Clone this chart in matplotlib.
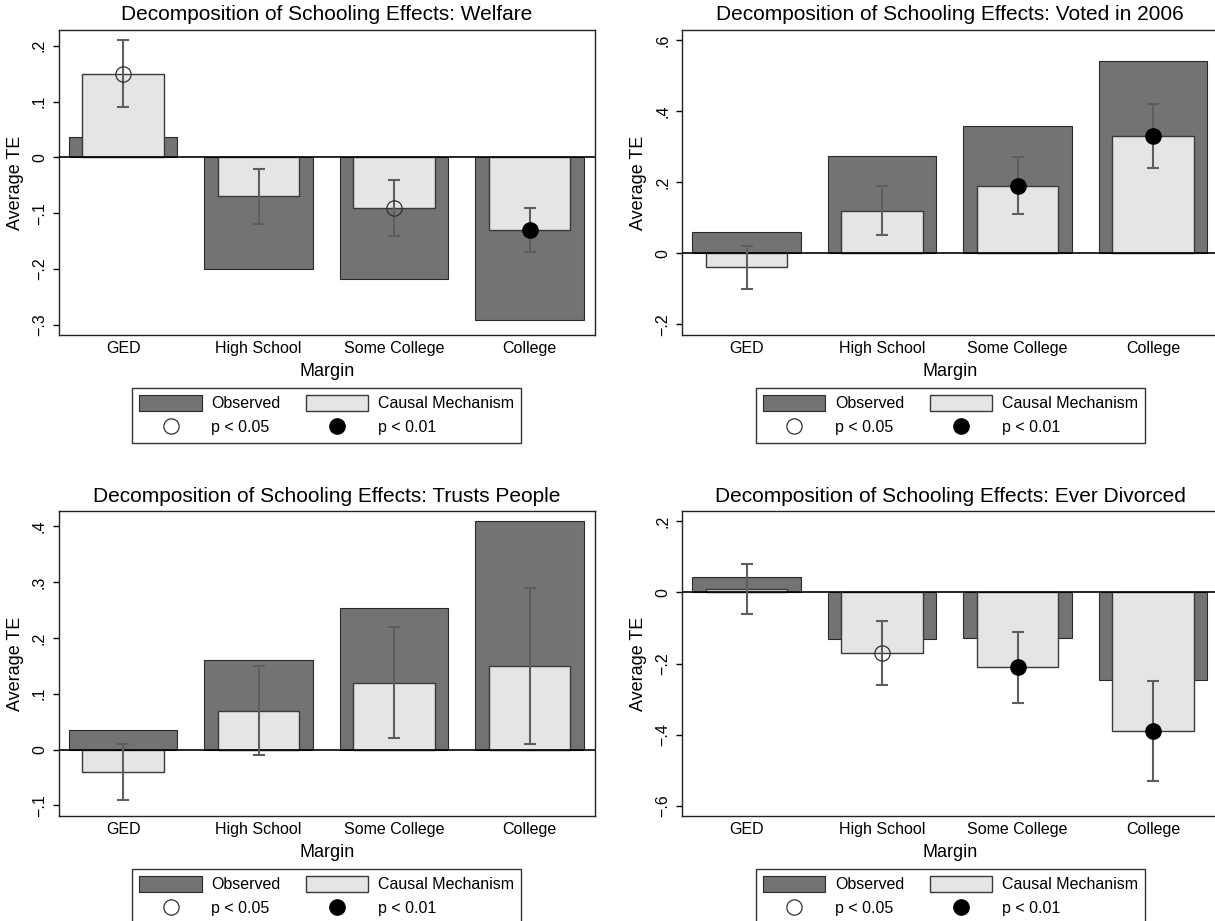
import numpy as np
import matplotlib.pyplot as plt
from matplotlib.lines import Line2D
from matplotlib.patches import Patch

plt.rcParams['font.family'] = ['Liberation Sans', 'DejaVu Sans']

margins = ['GED', 'High School', 'Some College', 'College']

# Welfare
welfare_obs = [0.037, -0.200, -0.218, -0.292]
welfare_causal = [0.15, -0.07, -0.09, -0.13]
welfare_lo = [0.09, -0.12, -0.14, -0.17]
welfare_hi = [0.21, -0.02, -0.04, -0.09]
welfare_sig = ['p05', '', 'p05', 'p01']

# Voted in 2006
voted_obs = [0.061, 0.273, 0.357, 0.540]
voted_causal = [-0.04, 0.12, 0.19, 0.33]
voted_lo = [-0.10, 0.05, 0.11, 0.24]
voted_hi = [0.02, 0.19, 0.27, 0.42]
voted_sig = ['', '', 'p01', 'p01']

# Trusts People
trust_obs = [0.035, 0.160, 0.254, 0.409]
trust_causal = [-0.04, 0.07, 0.12, 0.15]
trust_lo = [-0.09, -0.01, 0.02, 0.01]
trust_hi = [0.01, 0.15, 0.22, 0.29]
trust_sig = ['', '', '', '']

# Ever Divorced
divorce_obs = [0.042, -0.131, -0.129, -0.246]
divorce_causal = [0.01, -0.17, -0.21, -0.39]
divorce_lo = [-0.06, -0.26, -0.31, -0.53]
divorce_hi = [0.08, -0.08, -0.11, -0.25]
divorce_sig = ['', 'p05', 'p01', 'p01']

dark = '#737373'
light = '#e5e5e5'


def fmt_tick(v):
    if abs(v) < 1e-9:
        return '0'
    s = ('%g' % abs(v)).lstrip('0')
    return ('\u2212' if v < 0 else '') + s


def draw_panel(ax, title, obs, causal, lo, hi, sig, ylim, yticks):
    x = np.arange(len(margins))
    causal = np.array(causal)
    lo = np.array(lo)
    hi = np.array(hi)
    ax.bar(x, obs, width=0.8, color=dark, edgecolor='#2a2a2a', linewidth=0.8, zorder=2)
    ax.bar(x, causal, width=0.6, color=light, edgecolor='#3a3a3a', linewidth=1.0, zorder=3)
    ax.axhline(0, color='black', lw=1.2, zorder=4)
    ax.errorbar(x, causal, yerr=[causal - lo, hi - causal], fmt='none', ecolor='#5e5e5e',
                elinewidth=1.5, capsize=4.5, capthick=1.5, zorder=5)
    for xi, yi, s in zip(x, causal, sig):
        if s == 'p05':
            ax.plot(xi, yi, 'o', ms=11, mfc='none', mec='#303030', mew=0.9, zorder=6)
        elif s == 'p01':
            ax.plot(xi, yi, 'o', ms=11, mfc='black', mec='black', zorder=6)

    ax.set_xlim(-0.477, 3.483)
    ax.set_ylim(*ylim)
    ax.set_yticks(yticks)
    ax.set_yticklabels([fmt_tick(v) for v in yticks])
    ax.tick_params(axis='y', direction='out', length=4.3, width=1, labelsize=11.5,
                   labelrotation=90, pad=4)
    for lbl in ax.get_yticklabels():
        lbl.set_va('center')
    ax.set_xticks(x)
    ax.set_xticklabels(margins)
    ax.tick_params(axis='x', length=0, labelsize=11.5, pad=4)
    ax.set_xlabel('Margin', fontsize=13, labelpad=5)
    ax.set_ylabel('Average TE', fontsize=13, va='center')
    ax.yaxis.set_label_coords(-0.081, 0.5)
    for sp in ax.spines.values():
        sp.set_linewidth(1.0)
        sp.set_color('#222222')
    ax.text(0.5, 1 + 15 / 305, title, transform=ax.transAxes, ha='center', va='center',
            fontsize=15)

    handles = [
        Patch(facecolor=dark, edgecolor='#2a2a2a', linewidth=0.8),
        Line2D([], [], linestyle='none', marker='o', ms=11, mfc='none', mec='#303030', mew=0.9),
        Patch(facecolor=light, edgecolor='#3a3a3a', linewidth=1.0),
        Line2D([], [], linestyle='none', marker='o', ms=11, mfc='black', mec='black'),
    ]
    labels = ['Observed', 'p < 0.05', 'Causal Mechanism', 'p < 0.01']
    leg = ax.legend(handles, labels, ncol=2, loc='upper center',
                    bbox_to_anchor=(0.5, -53 / 305), fontsize=11.5, frameon=True,
                    fancybox=False, edgecolor='#333333', framealpha=1,
                    handlelength=3.9, handleheight=1.1, handletextpad=0.6,
                    columnspacing=1.6, borderpad=0.45, labelspacing=0.5,
                    borderaxespad=0)
    leg.get_frame().set_linewidth(1.0)


fig = plt.figure(figsize=(12.15, 9.21), dpi=100)
W, H = 1215.0, 921.0
aw, ah = 536.5, 305.0
ax1 = fig.add_axes([58.5 / W, (H - 335) / H, aw / W, ah / H])
ax2 = fig.add_axes([682 / W, (H - 335) / H, aw / W, ah / H])
ax3 = fig.add_axes([58.5 / W, (H - 816) / H, aw / W, ah / H])
ax4 = fig.add_axes([682 / W, (H - 816) / H, aw / W, ah / H])

draw_panel(ax1, 'Decomposition of Schooling Effects: Welfare',
           welfare_obs, welfare_causal, welfare_lo, welfare_hi, welfare_sig,
           (-0.318, 0.228), [-0.3, -0.2, -0.1, 0, 0.1, 0.2])
draw_panel(ax2, 'Decomposition of Schooling Effects: Voted in 2006',
           voted_obs, voted_causal, voted_lo, voted_hi, voted_sig,
           (-0.23, 0.628), [-0.2, 0, 0.2, 0.4, 0.6])
draw_panel(ax3, 'Decomposition of Schooling Effects: Trusts People',
           trust_obs, trust_causal, trust_lo, trust_hi, trust_sig,
           (-0.119, 0.4275), [-0.1, 0, 0.1, 0.2, 0.3, 0.4])
draw_panel(ax4, 'Decomposition of Schooling Effects: Ever Divorced',
           divorce_obs, divorce_causal, divorce_lo, divorce_hi, divorce_sig,
           (-0.629, 0.229), [-0.6, -0.4, -0.2, 0, 0.2])

fig.savefig('out.png', dpi=100)
